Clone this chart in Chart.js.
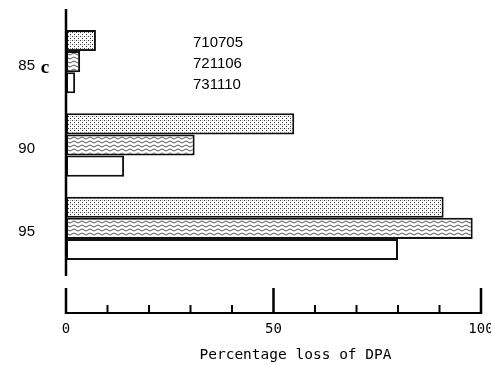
<!DOCTYPE html>
<html><head><meta charset="utf-8">
<script src="https://cdn.jsdelivr.net/npm/chart.js@4/dist/chart.umd.min.js"></script>
<style>html,body{margin:0;padding:0;background:#fff;overflow:hidden}</style>
</head><body>
<canvas id="c" width="491" height="365"></canvas>
<script>
const categories = ['85', '90', '95'];
const seriesNames = ['710705', '721106', '731110'];
const s710705 = [7.2, 55, 91];
const s721106 = [3.4, 31, 98];
const s731110 = [2.2, 14, 80];
const majorTicks = [0, 50, 100];
const minorTicks = [10, 20, 30, 40, 60, 70, 80, 90];
const panelLabel = 'c';
const xTitle = 'Percentage loss of DPA';

function stipple() {
  const c = document.createElement('canvas'); c.width = 4; c.height = 4;
  const g = c.getContext('2d');
  g.fillStyle = '#fff'; g.fillRect(0, 0, 4, 4);
  g.fillStyle = '#333'; g.fillRect(0, 0, 1, 1); g.fillRect(2, 2, 1, 1);
  g.fillStyle = '#aaa'; g.fillRect(2, 0, 1, 1);
  return g.createPattern(c, 'repeat');
}
function wavy() {
  const c = document.createElement('canvas'); c.width = 8; c.height = 4;
  const g = c.getContext('2d');
  g.fillStyle = '#fff'; g.fillRect(0, 0, 8, 4);
  g.strokeStyle = '#555'; g.lineWidth = 1;
  g.beginPath(); g.moveTo(0, 2);
  g.quadraticCurveTo(2, 0, 4, 2); g.quadraticCurveTo(6, 4, 8, 2);
  g.stroke();
  return g.createPattern(c, 'repeat');
}

const axesPlugin = {
  id: 'axesPlugin',
  afterDraw(chart) {
    const ctx = chart.ctx, x = chart.scales.x, y = chart.scales.y, a = chart.chartArea;
    ctx.save();
    ctx.strokeStyle = '#000'; ctx.fillStyle = '#000';
    ctx.lineWidth = 2.5;
    ctx.beginPath(); ctx.moveTo(a.left, a.top - 11); ctx.lineTo(a.left, a.bottom + 6); ctx.stroke();
    const y0 = a.bottom + 43;
    ctx.lineWidth = 2;
    ctx.beginPath(); ctx.moveTo(x.getPixelForValue(0) - 1, y0); ctx.lineTo(x.getPixelForValue(100) + 1, y0); ctx.stroke();
    ctx.lineWidth = 2.5;
    majorTicks.forEach(v => { const px = x.getPixelForValue(v); ctx.beginPath(); ctx.moveTo(px, y0 + 1); ctx.lineTo(px, y0 - 25); ctx.stroke(); });
    ctx.lineWidth = 2;
    minorTicks.forEach(v => { const px = x.getPixelForValue(v); ctx.beginPath(); ctx.moveTo(px, y0); ctx.lineTo(px, y0 - 8); ctx.stroke(); });
    // series labels
    ctx.font = '15px "Liberation Sans"'; ctx.textAlign = 'left'; ctx.textBaseline = 'middle';
    seriesNames.forEach((n, i) => {
      const bar = chart.getDatasetMeta(i).data[0];
      ctx.fillText(n, x.getPixelForValue(30.6), bar.y + 2);
    });
    // panel label
    ctx.font = 'bold 19px "Liberation Serif"'; ctx.textAlign = 'center';
    ctx.fillText(panelLabel, 45, y.getPixelForValue(0) + 6);
    // axis title
    ctx.font = '14.5px "DejaVu Sans Mono"'; ctx.textAlign = 'center';
    ctx.fillText(xTitle, x.getPixelForValue(55.3), a.bottom + 85);
    ctx.restore();
  }
};

new Chart(document.getElementById('c'), {
  type: 'bar',
  data: {
    labels: categories,
    datasets: [
      { label: seriesNames[0], data: s710705, backgroundColor: stipple(), borderColor: '#111', borderWidth: 2, borderSkipped: false },
      { label: seriesNames[1], data: s721106, backgroundColor: wavy(), borderColor: '#111', borderWidth: 2, borderSkipped: false },
      { label: seriesNames[2], data: s731110, backgroundColor: '#fff', borderColor: '#111', borderWidth: 2, borderSkipped: false }
    ]
  },
  options: {
    indexAxis: 'y',
    responsive: false,
    animation: false,
    devicePixelRatio: 1,
    layout: { padding: { top: 20, right: 10, left: 0, bottom: 0 } },
    categoryPercentage: 0.76,
    barPercentage: 1,
    plugins: { legend: { display: false }, tooltip: { enabled: false } },
    scales: {
      x: {
        min: 0, max: 100,
        grid: { display: false, drawTicks: false },
        border: { display: false },
        ticks: { stepSize: 50, color: '#000', padding: 51, font: { family: '"DejaVu Sans Mono"', size: 14 } },
        title: { display: false },
        afterFit(s) { s.height = 95; s.paddingRight = 0; s.paddingLeft = 0; }
      },
      y: {
        grid: { display: false, drawTicks: false },
        border: { display: false },
        ticks: { color: '#000', padding: 31, labelOffset: 4, font: { family: '"Liberation Sans"', size: 15 } },
        afterFit(s) { s.width = 66; s.paddingTop = 0; s.paddingBottom = 0; }
      }
    }
  },
  plugins: [axesPlugin]
});
</script>
</body></html>
